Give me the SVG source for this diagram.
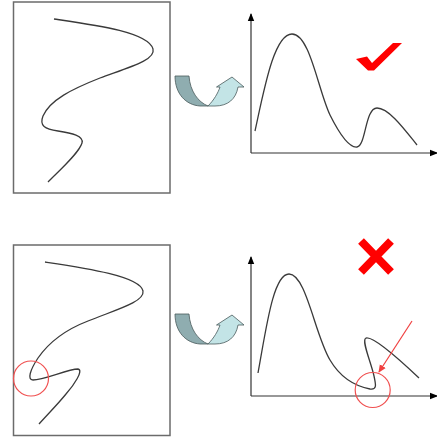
<svg xmlns="http://www.w3.org/2000/svg" width="437" height="439" viewBox="0 0 437 439">
<style>
.box{fill:#fff;stroke:#6b6b6b;stroke-width:1.5}
.curve{fill:none;stroke:#3a3a3a;stroke-width:1.3}
.axis{fill:none;stroke:#333;stroke-width:1.2}
.ring{fill:none;stroke:#f05050;stroke-width:1.2}
.dark{fill:#8fadb0;stroke:#4a5a5c;stroke-width:0.8}
.light{fill:#c3e4e6;stroke:#4a5a5c;stroke-width:0.8}
.mark{fill:none;stroke:#ff0000;stroke-width:8}
</style>
<defs>
<marker id="ax" viewBox="0 0 8 8" refX="7" refY="4" markerWidth="8" markerHeight="8" markerUnits="userSpaceOnUse" orient="auto">
<path d="M0,0.8 L8,4 L0,7.2 Z" fill="#000"/>
</marker>
<marker id="ra" viewBox="0 0 8 8" refX="7" refY="4" markerWidth="8" markerHeight="8" markerUnits="userSpaceOnUse" orient="auto">
<path d="M0,0.5 L8,4 L0,7.5 Z" fill="#f04040"/>
</marker>
</defs>
<rect width="437" height="439" fill="#fff"/>

<g id="top-left">
<rect class="box" x="13.5" y="2" width="156.5" height="191"/>
<path class="curve" d="M54,19 C95,25 148,32 153,49 C156,60 130,67 100,78 C72,89 50,100 43,116 C39,126 45,129 58,131 C72,133 84,136 82,143 C79,153 60,170 48,182"/>
</g>

<g id="top-arrow">
<path class="dark" d="M175,76 L189,76 C190,91 198,102 208,106 L200,106 C186,105 175,94 175,76 Z"/>
<path class="light" d="M208,106 C214,100 218,93 220,87 L216.5,87 L232,77 L244,87 L238,87 C236,99 228,106 215,106 Z"/>
</g>

<g id="top-right">
<path class="axis" d="M251,153 L251,14" marker-end="url(#ax)"/>
<path class="axis" d="M251,153 L437,153" marker-end="url(#ax)"/>
<path class="curve" d="M255,131 C264,90 274,34 292,34 C310,34 318,90 330,115 C340,135 349,148 357,147 C366,146 365,108 377,108 C389,108 405,130 417,145"/>
<polygon points="356,59 367,56.5 372,63 393,43 402,43 374,70.5 368,70.5" fill="#ff0000"/>
</g>

<g id="bottom-left">
<rect class="box" x="13.5" y="245" width="156.5" height="190.5"/>
<path class="curve" d="M45,262 C85,268 140,276 143,291 C145,302 115,310 88,321 C62,331 47,345 38,358 C30,370 27,380 33,380 C44,380 68,369 78,369 C84,370 74,385 66,394 C58,404 46,416 39,424"/>
<circle class="ring" cx="31" cy="378.5" r="17.5"/>
</g>

<g id="bottom-arrow" transform="translate(0,238)">
<path class="dark" d="M175,76 L189,76 C190,91 198,102 208,106 L200,106 C186,105 175,94 175,76 Z"/>
<path class="light" d="M208,106 C214,100 218,93 220,87 L216.5,87 L232,77 L244,87 L238,87 C236,99 228,106 215,106 Z"/>
</g>

<g id="bottom-right">
<path class="axis" d="M251,396 L251,257" marker-end="url(#ax)"/>
<path class="axis" d="M251,396 L437,396" marker-end="url(#ax)"/>
<path class="curve" d="M258,373 C266,330 273,274 289,274 C306,274 315,335 330,360 C340,377 355,386 370,389 C377,390 376,385 374,376 C371,362 361,340 366,338 C373,336 400,360 419,378"/>
<circle class="ring" cx="372.7" cy="390" r="17.5"/>
<path d="M412,321 L379,372" fill="none" stroke="#f04040" stroke-width="1.2" marker-end="url(#ra)"/>
<path class="mark" d="M361,241 L391,272 M391,241 L361,272"/>
</g>
</svg>
